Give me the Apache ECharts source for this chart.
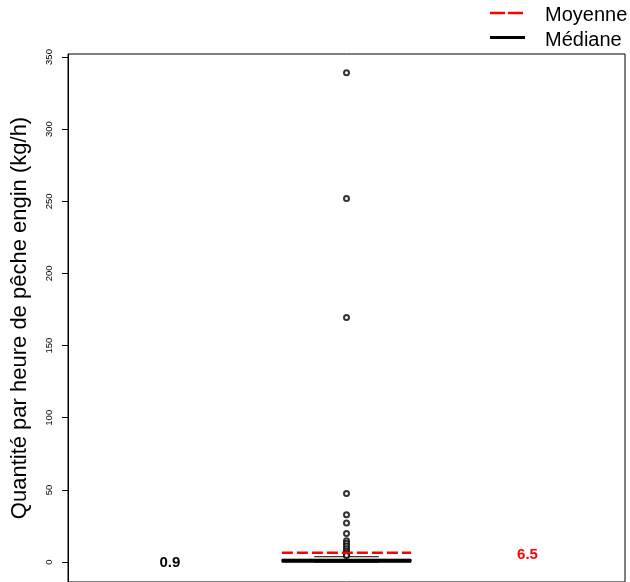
<!DOCTYPE html>
<html>
<head>
<meta charset="utf-8">
<script src="https://cdn.jsdelivr.net/npm/echarts@6/dist/echarts.min.js"></script>
<style>
html,body{margin:0;padding:0;background:#fff;}
#chart{width:630px;height:582px;}
</style>
</head>
<body>
<div id="chart"></div>
<script>
// ---- data ----
const yTicks = [0, 50, 100, 150, 200, 250, 300, 350];
// boxplot stats: lower whisker, Q1, median, Q3, upper whisker
const boxStats = [0, 0.3, 0.9, 1.8, 3.7];
const outliers = [339, 252, 169.5, 47.5, 32.7, 27, 19.8, 14.7, 13, 11.2, 9.2, 7.5, 6, 5, 4.5];
const meanValue = 6.5;
const medianValue = 0.9;
const legendLabels = ['Moyenne', 'Médiane'];
const yTitle = 'Quantité par heure de pêche engin (kg/h)';

const FONT = '"Liberation Sans", Arial, sans-serif';
const boxHalf = 0.116;
const stapleHalf = 0.058;

const chart = echarts.init(document.getElementById('chart'), null, {renderer: 'canvas'});

const option = {
  animation: false,
  backgroundColor: '#fff',
  grid: {left: 68, right: 5, top: 54, bottom: -1, show: true, borderColor: '#000', borderWidth: 1, containLabel: false},
  xAxis: {type: 'value', min: 0.5, max: 1.5, show: false},
  yAxis: {
    type: 'value', min: -13.83, max: 352.08,
    name: yTitle, nameLocation: 'middle', nameRotate: 90, nameGap: 37,
    nameTextStyle: {fontFamily: FONT, fontSize: 22, color: '#000'},
    axisLine: {show: true, lineStyle: {color: '#000', width: 1}},
    axisTick: {show: true, length: 6, customValues: yTicks, lineStyle: {color: '#000'}},
    axisLabel: {show: true, rotate: 90, fontSize: 9.5, fontFamily: FONT, color: '#000', margin: 14, customValues: yTicks},
    splitLine: {show: false}
  },
  series: [
    {
      type: 'custom',
      data: [[1].concat(boxStats)],
      renderItem: function (params, api) {
        const x = api.value(0);
        const lo = api.value(1), q1 = api.value(2), q3 = api.value(4), hi = api.value(5);
        const c = (xx, yy) => api.coord([xx, yy]);
        const pLeftQ1 = c(x - boxHalf, q1), pRightQ3 = c(x + boxHalf, q3);
        const children = [
          {type: 'line', shape: {x1: c(x, q3)[0], y1: c(x, q3)[1], x2: c(x, hi)[0], y2: c(x, hi)[1]}, style: {stroke: '#000', lineWidth: 1, lineDash: [4, 4]}},
          {type: 'line', shape: {x1: c(x, q1)[0], y1: c(x, q1)[1], x2: c(x, lo)[0], y2: c(x, lo)[1]}, style: {stroke: '#000', lineWidth: 1, lineDash: [4, 4]}},
          {type: 'line', shape: {x1: c(x - stapleHalf, hi)[0], y1: c(x, hi)[1], x2: c(x + stapleHalf, hi)[0], y2: c(x, hi)[1]}, style: {stroke: '#000', lineWidth: 1}},
          {type: 'line', shape: {x1: c(x - stapleHalf, lo)[0], y1: c(x, lo)[1], x2: c(x + stapleHalf, lo)[0], y2: c(x, lo)[1]}, style: {stroke: '#000', lineWidth: 1}},
          {type: 'rect', shape: {x: pLeftQ1[0], y: pRightQ3[1], width: pRightQ3[0] - pLeftQ1[0], height: pLeftQ1[1] - pRightQ3[1]}, style: {fill: '#fff', stroke: '#000', lineWidth: 1}}
        ];
        return {type: 'group', children: children};
      },
      z: 2
    },
    {
      type: 'scatter',
      data: outliers.map(v => [1, v]),
      symbol: 'emptyCircle', symbolSize: 5,
      itemStyle: {color: '#000', borderColor: '#000', borderWidth: 0.8},
      z: 3
    },
    {
      type: 'custom',
      data: [[1, medianValue, meanValue]],
      renderItem: function (params, api) {
        const x = api.value(0), med = api.value(1), mean = api.value(2);
        const c = (xx, yy) => api.coord([xx, yy]);
        return {type: 'group', children: [
          {type: 'line', shape: {x1: c(x - boxHalf, mean)[0], y1: c(x, mean)[1], x2: c(x + boxHalf, mean)[0], y2: c(x, mean)[1]}, style: {stroke: '#ff0000', lineWidth: 2.5, lineDash: [11, 4]}},
          {type: 'line', shape: {x1: c(x - boxHalf, med)[0], y1: c(x, med)[1], x2: c(x + boxHalf, med)[0], y2: c(x, med)[1]}, style: {stroke: '#000', lineWidth: 4}},
          {type: 'text', x: c(0.683, med)[0], y: c(0.683, med)[1] + 2.5, style: {text: String(med), fill: '#000', font: 'bold 15px ' + FONT, align: 'center', verticalAlign: 'middle'}},
          {type: 'text', x: c(1.325, mean)[0], y: c(1.325, mean)[1] + 2.5, style: {text: String(mean), fill: '#ff0000', font: 'bold 15px ' + FONT, align: 'center', verticalAlign: 'middle'}}
        ]};
      },
      z: 4
    }
  ],
  graphic: [
    {type: 'line', shape: {x1: 490, y1: 13, x2: 523, y2: 13}, style: {stroke: '#ff0000', lineWidth: 2.5, lineDash: [15, 3]}},
    {type: 'line', shape: {x1: 490, y1: 37.5, x2: 525, y2: 37.5}, style: {stroke: '#000', lineWidth: 3}},
    {type: 'text', x: 545, y: 15, style: {text: legendLabels[0], fill: '#000', font: '20px ' + FONT, verticalAlign: 'middle'}},
    {type: 'text', x: 545, y: 40, style: {text: legendLabels[1], fill: '#000', font: '20px ' + FONT, verticalAlign: 'middle'}}
  ]
};
chart.setOption(option);
</script>
</body>
</html>
